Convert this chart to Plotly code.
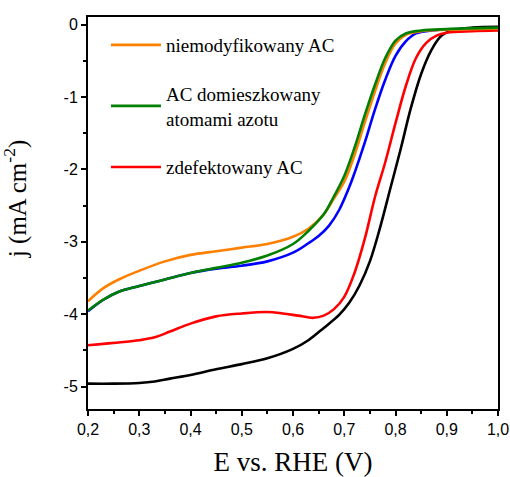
import plotly.graph_objects as go

# ---- data ----
E_orange = [0.20, 0.23, 0.26, 0.30, 0.35, 0.40, 0.45, 0.50, 0.55, 0.60, 0.63, 0.66, 0.68, 0.70, 0.72, 0.74, 0.76, 0.78, 0.80, 0.82, 0.85, 0.90, 1.00]
j_orange = [-3.82, -3.64, -3.52, -3.40, -3.27, -3.18, -3.13, -3.08, -3.03, -2.93, -2.82, -2.62, -2.40, -2.17, -1.80, -1.35, -0.92, -0.53, -0.26, -0.14, -0.09, -0.07, -0.05]

E_green = [0.20, 0.23, 0.26, 0.30, 0.35, 0.40, 0.45, 0.50, 0.55, 0.60, 0.63, 0.66, 0.68, 0.70, 0.72, 0.74, 0.76, 0.78, 0.80, 0.82, 0.85, 0.90, 1.00]
j_green = [-3.95, -3.80, -3.69, -3.61, -3.52, -3.43, -3.36, -3.29, -3.19, -3.03, -2.85, -2.62, -2.37, -2.09, -1.70, -1.25, -0.83, -0.46, -0.22, -0.12, -0.08, -0.06, -0.04]

E_blue = [0.20, 0.23, 0.26, 0.30, 0.35, 0.40, 0.45, 0.50, 0.55, 0.60, 0.63, 0.65, 0.67, 0.69, 0.71, 0.72, 0.74, 0.76, 0.78, 0.80, 0.82, 0.84, 0.87, 0.92, 1.00]
j_blue = [-3.96, -3.80, -3.69, -3.61, -3.52, -3.43, -3.37, -3.33, -3.27, -3.15, -3.02, -2.92, -2.78, -2.56, -2.24, -2.05, -1.63, -1.17, -0.76, -0.43, -0.23, -0.12, -0.08, -0.06, -0.05]

E_red = [0.20, 0.23, 0.26, 0.30, 0.33, 0.36, 0.40, 0.45, 0.50, 0.55, 0.58, 0.61, 0.64, 0.66, 0.68, 0.70, 0.72, 0.74, 0.76, 0.78, 0.80, 0.82, 0.84, 0.86, 0.88, 0.90, 0.95, 1.00]
j_red = [-4.43, -4.41, -4.39, -4.36, -4.32, -4.24, -4.13, -4.03, -3.99, -3.97, -3.99, -4.02, -4.05, -4.02, -3.93, -3.76, -3.43, -2.96, -2.38, -1.90, -1.36, -0.85, -0.46, -0.25, -0.15, -0.11, -0.09, -0.08]

E_black = [0.20, 0.25, 0.30, 0.33, 0.36, 0.40, 0.45, 0.50, 0.55, 0.60, 0.63, 0.66, 0.69, 0.71, 0.73, 0.75, 0.77, 0.79, 0.81, 0.83, 0.85, 0.87, 0.89, 0.91, 0.95, 1.00]
j_black = [-4.96, -4.96, -4.95, -4.93, -4.89, -4.84, -4.76, -4.69, -4.61, -4.48, -4.36, -4.19, -4.01, -3.84, -3.60, -3.27, -2.80, -2.26, -1.72, -1.15, -0.68, -0.35, -0.15, -0.08, -0.04, -0.03]

x_tickvals = [0.2, 0.3, 0.4, 0.5, 0.6, 0.7, 0.8, 0.9, 1.0]
x_ticktext = ["0,2", "0,3", "0,4", "0,5", "0,6", "0,7", "0,8", "0,9", "1,0"]
y_tickvals = [0, -1, -2, -3, -4, -5]
y_ticktext = ["0", "-1", "-2", "-3", "-4", "-5"]

legend_names = ["niemodyfikowany AC", "AC domieszkowany<br>atomami azotu", "zdefektowany AC"]

fig = go.Figure()
serif = "Liberation Serif"

def add(E, j, color, name=None, show=False):
    fig.add_trace(go.Scatter(
        x=E, y=j, mode="lines",
        line=dict(color=color, width=2.6, shape="spline", smoothing=1.0),
        name=name, showlegend=show, legendgroup=name if name else None,
    ))

add(E_black, j_black, "#000000")
add(E_blue, j_blue, "#0000FF")
add(E_red, j_red, "#FF0000", legend_names[2], True)
add(E_orange, j_orange, "#FF8000", legend_names[0], True)
add(E_green, j_green, "#008000", legend_names[1], True)

fig.data[3].legendrank = 1
fig.data[4].legendrank = 2
fig.data[2].legendrank = 3

fig.update_layout(
    width=510, height=477,
    margin=dict(l=88, r=11.5, t=17, b=67.5),
    plot_bgcolor="white", paper_bgcolor="white",
    showlegend=True,
    legend=dict(
        x=0.0438, y=0.977, xanchor="left", yanchor="top",
        font=dict(family=serif, size=19, color="#000"),
        bgcolor="rgba(0,0,0,0)", tracegroupgap=21, itemwidth=50,
    ),
    xaxis=dict(
        range=[0.2, 1.0], tickvals=x_tickvals, ticktext=x_ticktext, automargin=False,
        showline=True, linecolor="black", linewidth=2, mirror=True,
        ticks="outside", ticklen=5, tickwidth=2, tickcolor="black",
        minor=dict(ticks="outside", ticklen=3, tickwidth=2, dtick=0.05, tick0=0.2, tickcolor="black"),
        showgrid=False, zeroline=False,
        tickfont=dict(family="Liberation Sans", size=16, color="black"),
        title=dict(text="E vs. RHE (V)", font=dict(family=serif, size=27, color="black"), standoff=18),
    ),
    yaxis=dict(
        range=[-5.31, 0.107], tickvals=y_tickvals, ticktext=y_ticktext, automargin=False,
        showline=True, linecolor="black", linewidth=2, mirror=True,
        ticks="outside", ticklen=5, tickwidth=2, tickcolor="black",
        minor=dict(ticks="outside", ticklen=3, tickwidth=2, dtick=0.5, tick0=0, tickcolor="black"),
        showgrid=False, zeroline=False,
        tickfont=dict(family="Liberation Sans", size=16, color="black"),
    ),
    annotations=[dict(
        text="j (mA cm<sup>-2</sup>)", textangle=-90, showarrow=False,
        xref="paper", yref="paper", x=-0.175, y=0.536, xanchor="center", yanchor="middle",
        font=dict(family=serif, size=25, color="black"),
    )],
)

fig.write_html("out.html")
